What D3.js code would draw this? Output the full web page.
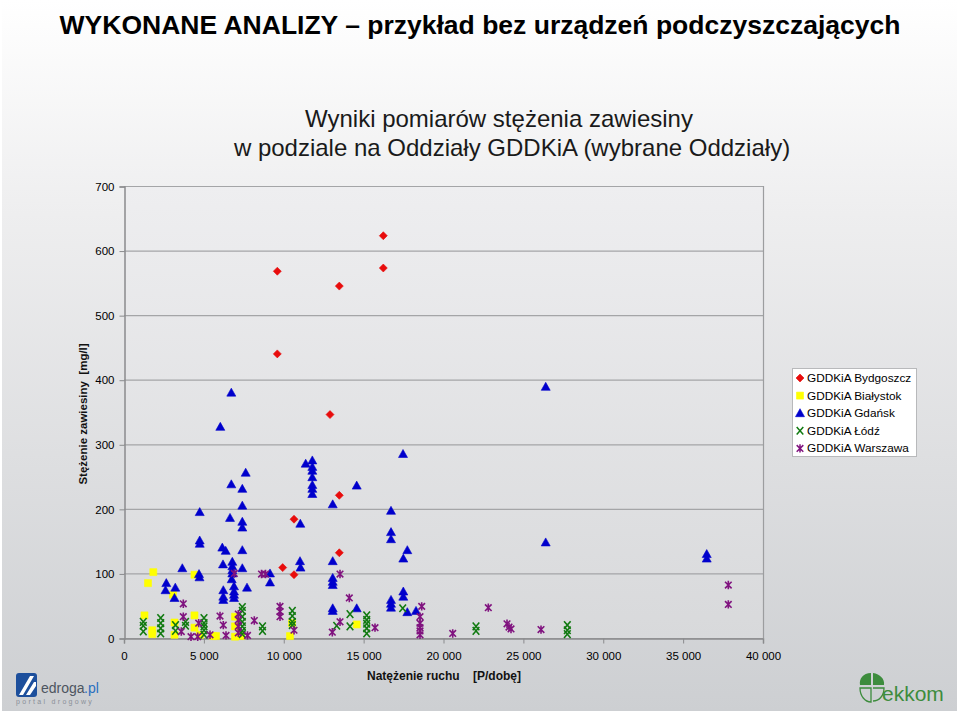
<!DOCTYPE html>
<html>
<head>
<meta charset="utf-8">
<script src="https://cdn.jsdelivr.net/npm/d3@7"></script>
<style>
  body { margin: 0; background: #ffffff; }
  text { font-family: "Liberation Sans", Arial, sans-serif; }
</style>
</head>
<body>
<script>
// series: [natężenie ruchu, stężenie zawiesiny]
var bydgoszcz = [
  [9597, 568], [9597, 440], [13478, 545], [16232, 623], [16232, 573], [12896, 346],
  [13478, 221], [10642, 184], [9935, 109], [10642, 98], [13478, 132]
];
var bialystok = [
  [1834, 102], [1502, 85], [4413, 98], [3067, 67], [1283, 35], [1772, 12], [1772, 6],
  [3161, 24], [3161, 5], [4413, 35], [4413, 16], [4758, 5], [5571, 3], [5759, 3],
  [6949, 33], [6949, 18], [6949, 2], [7324, 3], [10392, 3], [10517, 23], [14567, 21]
];
var gdansk = [
  [26398, 389], [26398, 148], [36477, 130], [36477, 123], [6717, 380], [6028, 327],
  [17465, 285], [11788, 275], [11788, 265], [11788, 259], [11788, 249], [11788, 237],
  [11788, 231], [11788, 223], [11374, 270], [7618, 256], [6717, 238], [7406, 231],
  [7406, 205], [4739, 195], [6636, 186], [7406, 180], [7406, 171], [11036, 177],
  [4739, 151], [4739, 146], [6154, 140], [6366, 135], [7406, 136], [14567, 236],
  [13065, 207], [16714, 197], [16714, 164], [16714, 153], [17735, 136], [17484, 123],
  [11018, 119], [11049, 109], [13065, 119], [13065, 93], [13065, 87], [13065, 82],
  [13065, 46], [13065, 42], [14567, 46], [16714, 59], [16714, 53], [16714, 47],
  [17484, 72], [17484, 64], [17735, 40], [18279, 42], [3650, 108], [4695, 99],
  [4726, 94], [2648, 85], [2598, 74], [3211, 78], [3161, 62], [6197, 114],
  [6780, 118], [6780, 111], [6780, 105], [6780, 100], [7406, 108], [9140, 100],
  [9140, 86], [7700, 78], [6216, 74], [6216, 64], [6216, 59], [6886, 80],
  [6886, 72], [6886, 67], [6886, 62], [6742, 91]
];
var lodz = [
  [1208, 25], [1208, 19], [1208, 10], [2297, 31], [2297, 23], [2297, 15], [2297, 7],
  [3224, 20], [3224, 11], [3850, 25], [3850, 19], [5008, 31], [5008, 23], [5008, 18],
  [5008, 12], [5008, 5], [7406, 48], [7406, 42], [7406, 33], [7406, 25], [7406, 18],
  [7406, 11], [7406, 6], [8670, 18], [8670, 11], [10536, 42], [10536, 34], [10536, 25],
  [10536, 20], [13315, 19], [14148, 37], [14148, 18], [15193, 35], [15193, 28],
  [15193, 22], [15193, 15], [15193, 7], [17447, 46], [22035, 18], [22035, 11],
  [27751, 20], [27751, 12], [27751, 6]
];
var warszawa = [
  [3712, 53], [3712, 33], [3587, 10], [4194, 2], [4676, 23], [4614, 2], [5384, 5],
  [6010, 34], [6216, 20], [6385, 4], [6905, 100], [7155, 37], [7155, 28], [7155, 18],
  [7155, 8], [7731, 4], [8157, 27], [8608, 99], [8858, 99], [9766, 49], [9766, 41],
  [9766, 33], [10642, 12], [13522, 99], [14104, 62], [13040, 9], [13522, 25],
  [15713, 16], [18636, 49], [18530, 33], [18530, 23], [18530, 16], [18530, 11],
  [18530, 5], [20577, 7], [22805, 47], [23976, 22], [24101, 17], [24226, 14],
  [26104, 13], [37829, 82], [37829, 52]
];

var seriesNames = ["GDDKiA Bydgoszcz", "GDDKiA Białystok", "GDDKiA Gdańsk", "GDDKiA Łódź", "GDDKiA Warszawa"];
var seriesData = [bydgoszcz, bialystok, gdansk, lodz, warszawa];
var markerKinds = ["diamond", "square", "triangle", "cross", "star"];
var markerColors = ["#e80c0c", "#ffff00", "#0000cc", "#117a11", "#80137f"];

var title = "WYKONANE ANALIZY – przykład bez urządzeń podczyszczających";
var subtitle1 = "Wyniki pomiarów stężenia zawiesiny";
var subtitle2 = "w podziale na Oddziały GDDKiA (wybrane Oddziały)";
var xTitle = "Natężenie ruchu    [P/dobę]";
var yTitle = "Stężenie zawiesiny  [mg/l]";

var width = 960, height = 715;
var plot = {left: 124, right: 763, top: 186, bottom: 638};

var svg = d3.select("body")
  .append("svg")
    .attr("width", width)
    .attr("height", height);

var defs = svg.append("defs");
var bgGrad = defs.append("linearGradient").attr("id", "bgGrad")
    .attr("x1", 0).attr("y1", 0).attr("x2", 0).attr("y2", 1);
bgGrad.append("stop").attr("offset", "0%").attr("stop-color", "#ffffff");
bgGrad.append("stop").attr("offset", "30%").attr("stop-color", "#eeeeef");
bgGrad.append("stop").attr("offset", "100%").attr("stop-color", "#cdcfd2");
var plotGrad = defs.append("linearGradient").attr("id", "plotGrad")
    .attr("x1", 0).attr("y1", 0).attr("x2", 0).attr("y2", 1);
plotGrad.append("stop").attr("offset", "0%").attr("stop-color", "#eeeef0");
plotGrad.append("stop").attr("offset", "100%").attr("stop-color", "#d8d9db");

// slide background
svg.append("rect")
    .attr("x", 2).attr("y", 0)
    .attr("width", 955).attr("height", 711)
    .style("fill", "url(#bgGrad)");

// titles
svg.append("text")
    .attr("x", 480).attr("y", 34)
    .style("text-anchor", "middle")
    .style("font-size", "26.5px")
    .style("font-weight", "bold")
    .style("fill", "#000")
    .text(title);

svg.append("text")
    .attr("x", 499).attr("y", 127)
    .style("text-anchor", "middle")
    .style("font-size", "24px")
    .style("fill", "#1a1a1a")
    .text(subtitle1);

svg.append("text")
    .attr("x", 512).attr("y", 156)
    .style("text-anchor", "middle")
    .style("font-size", "24px")
    .style("fill", "#1a1a1a")
    .text(subtitle2);

// scales
var x = d3.scaleLinear()
    .domain([0, 40000])
    .range([plot.left, plot.right]);

var y = d3.scaleLinear()
    .domain([0, 700])
    .range([plot.bottom, plot.top]);

var plLocale = d3.formatLocale({decimal: ",", thousands: " ", grouping: [3], currency: ["", " zł"]});
var fmt = plLocale.format(",d");

// plot area
svg.append("rect")
    .attr("x", plot.left).attr("y", plot.top)
    .attr("width", plot.right - plot.left)
    .attr("height", plot.bottom - plot.top)
    .style("fill", "url(#plotGrad)");

// horizontal gridlines
svg.append("g")
  .selectAll("line")
  .data(y.ticks(7))
  .enter()
  .append("line")
    .attr("x1", plot.left).attr("x2", plot.right)
    .attr("y1", function(d) { return y(d) + 0.5; })
    .attr("y2", function(d) { return y(d) + 0.5; })
    .style("stroke", "#a4a5a7")
    .style("stroke-width", 1.2);

// right border of plot
svg.append("line")
    .attr("x1", plot.right + 0.5).attr("x2", plot.right + 0.5)
    .attr("y1", plot.top).attr("y2", plot.bottom)
    .style("stroke", "#9c9d9f")
    .style("stroke-width", 1.2);

// Y axis
var yAxis = svg.append("g")
    .attr("transform", "translate(" + (plot.left + 0.5) + ",0.5)")
    .call(d3.axisLeft(y).ticks(7).tickSize(5).tickPadding(5));

// X axis
var xAxis = svg.append("g")
    .attr("transform", "translate(0," + (plot.bottom + 0.5) + ")")
    .call(d3.axisBottom(x).ticks(8).tickFormat(fmt).tickSize(5).tickPadding(8));

[yAxis, xAxis].forEach(function(ax) {
  ax.select(".domain").style("stroke", "#8a8b8d").style("stroke-width", 1.5);
  ax.selectAll(".tick line").style("stroke", "#8a8b8d");
  ax.selectAll(".tick text")
    .style("font-family", "\"Liberation Sans\", Arial, sans-serif")
    .style("font-size", "11.5px")
    .style("fill", "#000");
});

// axis titles
svg.append("text")
    .attr("x", 444).attr("y", 680)
    .style("text-anchor", "middle")
    .style("font-size", "12px")
    .style("font-weight", "bold")
    .style("fill", "#111")
    .attr("xml:space", "preserve")
    .text(xTitle);

svg.append("text")
    .attr("transform", "translate(87,414) rotate(-90)")
    .style("text-anchor", "middle")
    .style("font-size", "11.5px")
    .style("font-weight", "bold")
    .style("fill", "#111")
    .attr("xml:space", "preserve")
    .text(yTitle);

// marker shapes
var markerPath = function(kind) {
  if (kind === "diamond") return "M0,-4L4,0L0,4L-4,0Z";
  if (kind === "square") return "M-3.5,-3.5H3.5V3.5H-3.5Z";
  if (kind === "triangle") return "M0,-4.5L4.5,3.5L-4.5,3.5Z";
  if (kind === "cross") return "M-3.3,-3.8L3.3,3.8M3.3,-3.8L-3.3,3.8";
  return "M-3.3,-3.3L3.3,3.3M3.3,-3.3L-3.3,3.3M0,-4.2L0,4.2";
};
var isFilled = function(kind) {
  return kind === "diamond" || kind === "square" || kind === "triangle";
};

// points, drawn series by series like the spreadsheet does
seriesData.forEach(function(data, i) {
  var kind = markerKinds[i];
  svg.append("g")
    .selectAll("path")
    .data(data)
    .enter()
    .append("path")
      .attr("transform", function(d) { return "translate(" + x(d[0]) + "," + y(d[1]) + ")"; })
      .attr("d", markerPath(kind))
      .style("fill", isFilled(kind) ? markerColors[i] : "none")
      .style("stroke", markerColors[i])
      .style("stroke-width", isFilled(kind) ? 0.6 : 1.6);
});

// legend
var legend = svg.append("g").attr("transform", "translate(792,368)");
legend.append("rect")
    .attr("x", 0.5).attr("y", 0.5)
    .attr("width", 124).attr("height", 88)
    .style("fill", "#ffffff")
    .style("stroke", "#b8b9bb");

var items = legend.selectAll(".item")
  .data(seriesNames)
  .enter()
  .append("g")
    .attr("class", "item")
    .attr("transform", function(d, i) { return "translate(8," + (10 + i * 17.6) + ")"; });

items.append("path")
    .attr("d", function(d, i) { return markerPath(markerKinds[i]); })
    .style("fill", function(d, i) { return isFilled(markerKinds[i]) ? markerColors[i] : "none"; })
    .style("stroke", function(d, i) { return markerColors[i]; })
    .style("stroke-width", function(d, i) { return isFilled(markerKinds[i]) ? 0.6 : 1.5; });

items.append("text")
    .attr("x", 7).attr("y", 4)
    .style("font-size", "11.8px")
    .style("fill", "#000")
    .text(function(d) { return d; });

// logo: edroga.pl (bottom left)
var edroga = svg.append("g").attr("transform", "translate(16,673)");
edroga.append("rect")
    .attr("width", 21).attr("height", 24).attr("rx", 3)
    .style("fill", "#1d4f9c");
edroga.append("path")
    .attr("d", "M3,22 L14,3 L18,3 L7,22Z M10,22 L18,9 L20,9 L20,13 L14,22Z")
    .style("fill", "#ffffff");
edroga.append("text")
    .attr("x", 25).attr("y", 20)
    .style("font-size", "14px")
    .style("fill", "#4d5560")
    .text("edroga");
edroga.append("text")
    .attr("x", 68).attr("y", 20)
    .style("font-size", "14px")
    .style("fill", "#2a6fc0")
    .text(".pl");
edroga.append("text")
    .attr("x", 0).attr("y", 31)
    .style("font-size", "7px")
    .style("letter-spacing", "2.3px")
    .style("fill", "#8a8f98")
    .text("portal drogowy");

// logo: ekkom (bottom right)
var ekkom = svg.append("g").attr("transform", "translate(858,672)");
ekkom.append("path")
    .attr("d", "M13,1 C5,1 1,7 2,13 L13,13 Z M15,1 C22,2 27,7 26,13 L15,13 Z")
    .style("fill", "#3d8c3d");
ekkom.append("path")
    .attr("d", "M2,16 C2,24 7,30 13,30 L13,16 Z M15,16 L26,16 C26,24 21,29 15,29")
    .style("fill", "none")
    .style("stroke", "#3d8c3d")
    .style("stroke-width", 1.3);
ekkom.append("text")
    .attr("x", 24).attr("y", 29)
    .style("font-size", "21px")
    .style("fill", "#3d8c3d")
    .text("ekkom");
</script>
</body>
</html>
